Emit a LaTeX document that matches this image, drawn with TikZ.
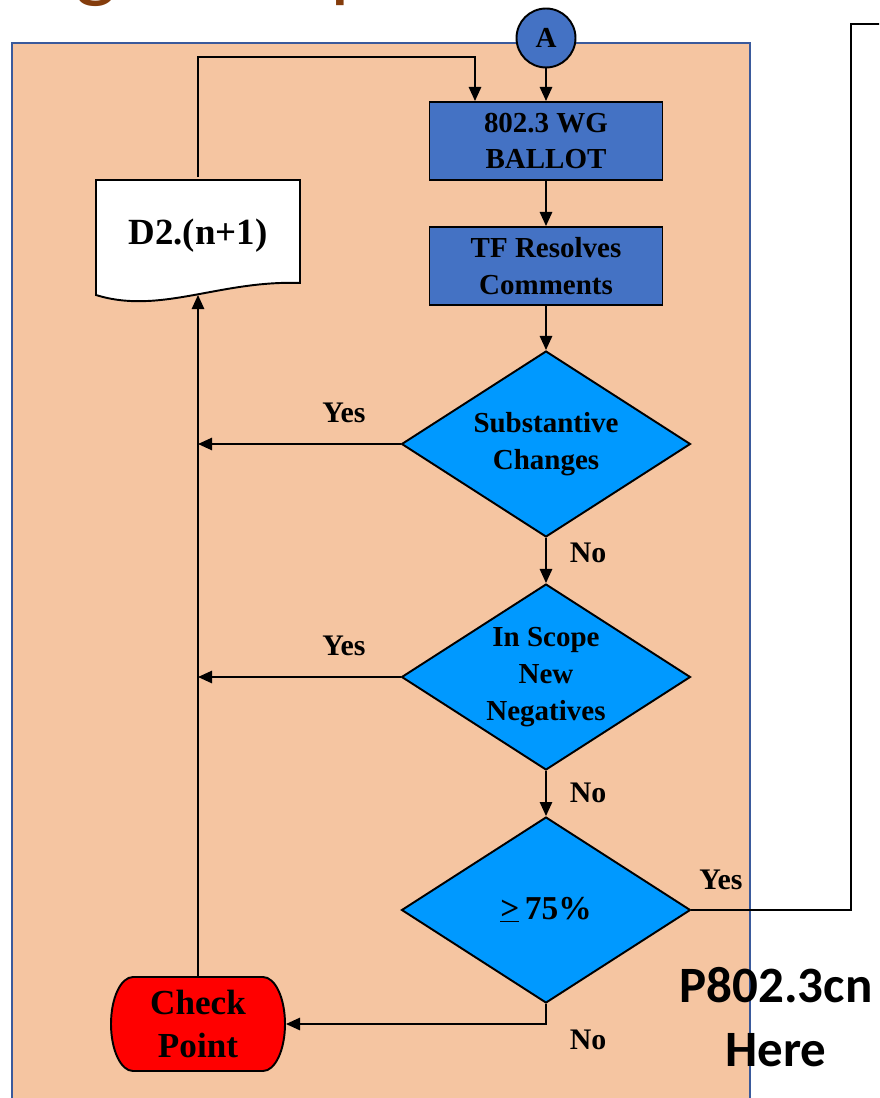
\documentclass[tikz,border=0pt]{standalone}
\usepackage{fontspec}
\setmainfont{Liberation Serif}
\newfontfamily\sansfont{Carlito}
\usepackage{tikz}
\usetikzlibrary{shapes.geometric, arrows.meta, positioning}
\definecolor{peach}{HTML}{F5C5A1}
\definecolor{frameblue}{HTML}{3A5A9C}
\definecolor{boxblue}{HTML}{4472C4}
\definecolor{askblue}{HTML}{0099FF}
\definecolor{titlebrown}{HTML}{843C0C}
\newcommand\nodefont{\bfseries\fontsize{16.5}{21}\selectfont}
\newcommand\lblfont{\bfseries\fontsize{17}{20}\selectfont}

\begin{document}
\begin{tikzpicture}[x=0.02cm, y=-0.02cm,
            style = {line width=1.1pt},
            stepbox/.style = {draw, fill=boxblue, minimum width=4.66cm, minimum height=1.56cm, inner sep=0pt, align=center, font=\nodefont},
            ask/.style = {draw, diamond, aspect=1.55, fill=askblue, minimum width=5.78cm, minimum height=3.72cm, inner sep=0pt, align=center, font=\nodefont},
            lbl/.style = {font=\lblfont, inner sep=0pt},
            cut/.style = {inner sep=0pt, text=titlebrown, font=\sansfont\fontsize{50}{50}\selectfont},
            arr/.style = {-{Triangle[length=8pt,width=7pt]}}]
            \useasboundingbox (0,0) rectangle (879,1098);
            \clip (0,0) rectangle (879,1098);
            % title cut off at the top
            \node (t1) [cut, anchor=base] at (96,-8) {g};
            \node (t2) [cut, anchor=base west] at (330,-8) {p};
            % panel
            \draw [fill=peach, draw=frameblue, line width=1.4pt] (12,43) rectangle (750,1120);
            % nodes
            \node (a) [draw, circle, fill=boxblue, minimum size=1.18cm, inner sep=0pt, font=\nodefont] at (546,38) {A};
            \node (b1) [stepbox] at (546,141) {802.3 WG\\BALLOT};
            \node (b2) [stepbox] at (546,266) {TF Resolves\\Comments};
            \node (d1) [ask] at (546,444) {Substantive\\Changes};
            \node (d2) [ask] at (546,677) {In Scope\\New\\Negatives};
            \node (d3) [ask, font=\bfseries\fontsize{19}{22}\selectfont] at (546,910) {\underline{>}\,75\%};
            \draw [fill=white] (96,180) -- (300,180) -- (300,283)
                .. controls (220,280) and (160,315) .. (96,295) -- cycle;
            \node (doc) [minimum width=4.08cm, minimum height=2.32cm, inner sep=0pt, font=\bfseries\fontsize{21}{24}\selectfont] at (198,236) {D2.(n+1)};
            \draw [fill=red] (133,977) -- (263,977) arc[start angle=-90, end angle=90, x radius=22, y radius=47]
                -- (133,1071) arc[start angle=90, end angle=270, x radius=22, y radius=47] -- cycle;
            \node (cp) [minimum width=3.48cm, minimum height=1.88cm, inner sep=0pt, align=center, font=\bfseries\fontsize{20}{25}\selectfont] at (198,1024) {Check\\Point};
            % connectors
            \coordinate (loop) at (475,57);
            \coordinate (turn) at (851,24);
            \coordinate (out) at (900,24);
            \draw [arr] (a) -- (b1);
            \draw [arr] (b1) -- (b2);
            \draw [arr] (b2) -- (d1);
            \draw [arr] (d1) -- (d2);
            \draw [arr] (d2) -- (d3);
            \draw [arr] (d1.west) -- (d1.west -| cp.north);
            \draw [arr] (d2.west) -- (d2.west -| cp.north);
            \draw [arr] (d3.south) |- (cp.east);
            \draw [arr] (cp.north) -- (doc.south);
            \draw [arr] (doc.north) |- (loop) -- (loop |- b1.north);
            \draw (d3.east) -| (turn) -- (out);
            % labels
            \node (y1) [lbl] at (344,413) {Yes};
            \node (y2) [lbl] at (344,646) {Yes};
            \node (y3) [lbl] at (721,880) {Yes};
            \node (n1) [lbl] at (588,553) {No};
            \node (n2) [lbl] at (588,793) {No};
            \node (n3) [lbl] at (588,1040) {No};
            \node (here) [align=center, inner sep=0pt, font=\sansfont\bfseries\fontsize{29}{36}\selectfont] at (776,1017) {P802.3cn\\Here};
\end{tikzpicture}
\end{document}
